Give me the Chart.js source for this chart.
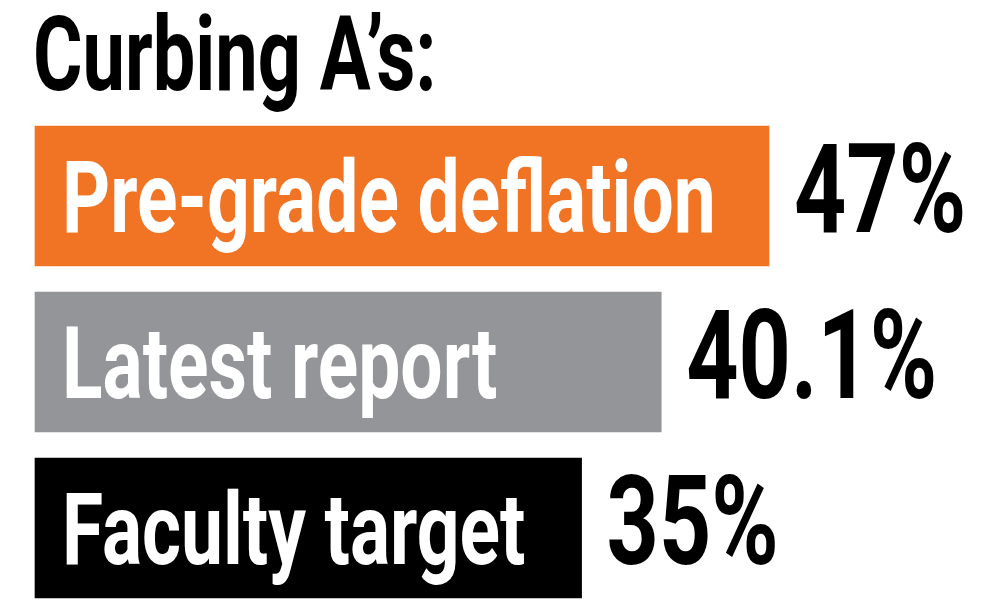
<!DOCTYPE html>
<html>
<head>
<meta charset="utf-8">
<script src="https://cdn.jsdelivr.net/npm/chart.js@4"></script>
<style>
    html, body { margin: 0; padding: 0; background: #fff; }
    #chart { display: block; }
</style>
</head>
<body>
<canvas id="chart" width="984" height="604"></canvas>
<script>
// data
const titleText = 'Curbing A\u2019s:';
const categories = ['Pre-grade deflation', 'Latest report', 'Faculty target'];
const values = [47, 40.1, 35];
const valueLabels = ['47%', '40.1%', '35%'];
const barColors = ['#f07424', '#939598', '#000000'];

const FONT = 'Roboto, "Liberation Sans", sans-serif';

// draw text squeezed horizontally to mimic a condensed face
function drawCondensed(ctx, text, x, y, size, squeeze, color) {
    ctx.save();
    ctx.font = '700 ' + size + 'px ' + FONT;
    ctx.fillStyle = color;
    ctx.textBaseline = 'alphabetic';
    ctx.textAlign = 'left';
    ctx.translate(x, y);
    ctx.scale(squeeze, 1);
    ctx.fillText(text, 0, 0);
    ctx.restore();
}

const labelPlugin = {
    id: 'barText',
    afterDatasetsDraw(chart) {
        const ctx = chart.ctx;
        const meta = chart.getDatasetMeta(0);
        meta.data.forEach((bar, i) => {
            const baseline = bar.y + 36;
            drawCondensed(ctx, categories[i], bar.base + 27, baseline, 101, 0.742, '#ffffff');
            drawCondensed(ctx, valueLabels[i], bar.x + 25, baseline, 125, 0.73, '#000000');
        });
        drawCondensed(ctx, titleText, 33, 90, 103, 0.735, '#000000');
    }
};

new Chart(document.getElementById('chart'), {
    type: 'bar',
    data: {
        labels: categories,
        datasets: [{
            data: values,
            backgroundColor: barColors,
            borderWidth: 0,
            barThickness: 140,
            clip: false
        }]
    },
    options: {
        indexAxis: 'y',
        responsive: false,
        animation: false,
        events: [],
        layout: { padding: { left: 35, right: 12, top: 196, bottom: 76 } },
        plugins: {
            legend: { display: false },
            title: { display: false },
            tooltip: { enabled: false }
        },
        scales: {
            x: { display: false, min: 0, max: 60 },
            y: { display: false, offset: false, grid: { offset: false } }
        }
    },
    plugins: [labelPlugin]
});
</script>
</body>
</html>
